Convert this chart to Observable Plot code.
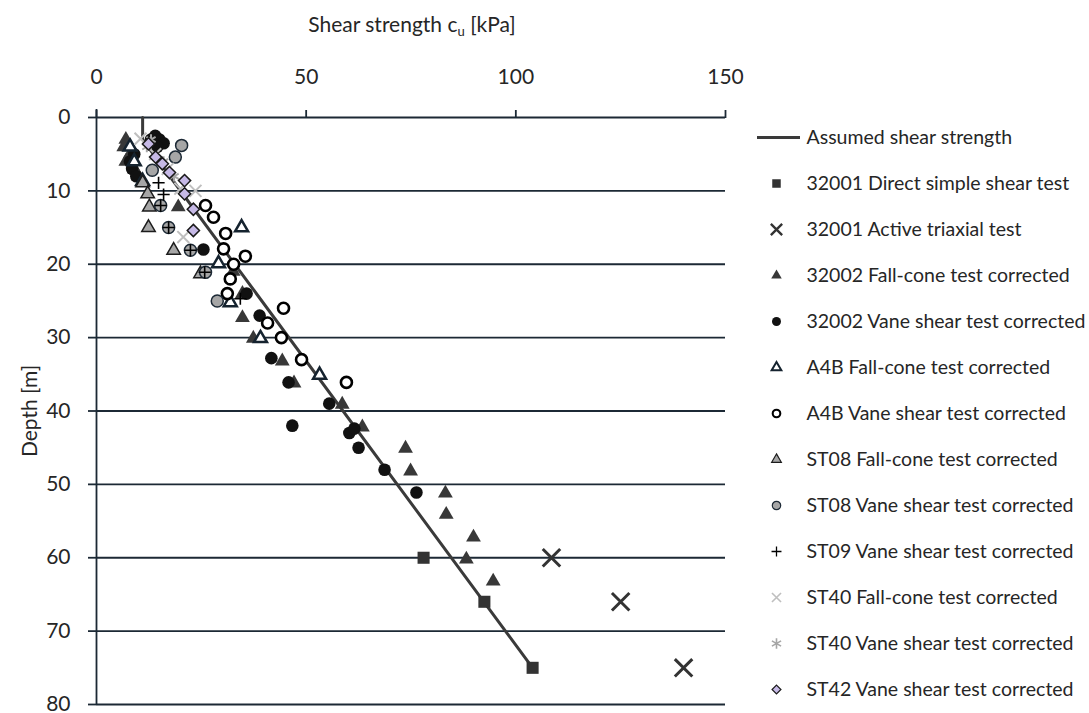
<!DOCTYPE html>
<html><head><meta charset="utf-8">
<script src="https://cdn.jsdelivr.net/npm/d3@7"></script>
<script src="https://cdn.jsdelivr.net/npm/@observablehq/plot@0.6"></script>
<style>
body{margin:0;background:#fff;font-family:Lato,sans-serif;}
#wrap{position:relative;width:1089px;height:713px;overflow:hidden;background:#fff}
#title{position:absolute;top:11px;left:0;width:824px;text-align:center;font-size:21px;line-height:26px;color:#262626;font-family:Lato,sans-serif}
#title sub{font-size:0.62em;vertical-align:-0.3em}
#main{position:absolute;left:0;top:0}
#legend{position:absolute;left:757px;top:0}
</style></head><body>
<div id="wrap"><div id="main"></div><div id="legend"></div><div id="title">Shear strength c<sub>u</sub> [kPa]</div></div>
<script>
// ---- axis ticks ----
const cuTicks = [0, 50, 100, 150];
const depthTicks = [0, 10, 20, 30, 40, 50, 60, 70, 80];

// ---- assumed shear strength line ----
const assumedCu = [11, 11, 104];
const assumedDepth = [0, 3, 75];

// ---- 32001 Direct simple shear test ----
const dss32001Cu = [78, 92.5, 104];
const dss32001Depth = [60, 66, 75];

// ---- 32001 Active triaxial test ----
const triax32001Cu = [108.5, 125, 140];
const triax32001Depth = [60, 66, 75];

// ---- 32002 Fall-cone test corrected ----
const fc32002Cu = [7, 6.5, 8, 7, 9, 10, 9, 19.5, 32.6, 34.8, 34.8, 37.4, 44.3, 47.1, 58.6, 63.4, 73.7, 74.9, 83.2, 83.4, 89.9, 88.2, 94.6];
const fc32002Depth = [3, 4, 5, 6, 7, 8, 6, 12.2, 21, 24, 27.3, 30.1, 33.2, 36.2, 39.1, 42.2, 45.1, 48.2, 51.2, 54.1, 57.2, 60.2, 63.2];

// ---- 32002 Vane shear test corrected ----
const vane32002Cu = [14, 15, 16, 14.5, 9, 8, 8.5, 9.5, 13, 25.5, 35.8, 38.9, 41.7, 45.8, 46.7, 55.5, 60.3, 61.5, 62.5, 68.7, 76.3];
const vane32002Depth = [2.5, 3, 3.5, 4, 5, 6, 7, 8, 3, 18, 24, 27, 32.8, 36.1, 42, 39, 43, 42.4, 45, 48, 51.1];

// ---- A4B Fall-cone test corrected ----
const fcA4BCu = [8, 9, 11, 34.6, 29.1, 31.9, 39.1, 53.2];
const fcA4BDepth = [4, 6, 8.7, 15, 19.9, 25.2, 30.1, 35.1];

// ---- A4B Vane shear test corrected ----
const vaneA4BCu = [26, 27.9, 30.8, 30.3, 35.5, 32.7, 31.9, 31.2, 44.6, 40.8, 44.1, 48.9, 59.6];
const vaneA4BDepth = [12, 13.6, 15.8, 17.9, 18.9, 20, 22, 24, 26, 28, 30, 33, 36.1];

// ---- ST08 Fall-cone test corrected ----
const fcST08Cu = [11, 12.2, 12.6, 12.4, 18.4, 24.8];
const fcST08Depth = [8.9, 10.4, 12.2, 15, 18.1, 21.3];

// ---- ST08 Vane shear test corrected ----
const vaneST08Cu = [20.3, 18.8, 13.3, 15.3, 17.2, 22.4, 26, 28.8];
const vaneST08Depth = [3.8, 5.4, 7.2, 12, 15, 18.1, 21.1, 25];

// ---- ST09 Vane shear test corrected ----
const vaneST09Cu = [14.8, 16, 15.3, 17.2, 22.4, 25.8, 34.3];
const vaneST09Depth = [8.9, 10.5, 12, 15, 18.1, 21.1, 24.7];

// ---- ST40 Fall-cone test corrected ----
const fcST40Cu = [10.5, 14, 17, 20, 23.6, 20.7];
const fcST40Depth = [2.9, 5, 7, 9.7, 10, 16.3];

// ---- ST40 Vane shear test corrected ----
const vaneST40Cu = [13, 12, 16, 18.5];
const vaneST40Depth = [3, 4, 6, 8];

// ---- ST42 Vane shear test corrected ----
const vaneST42Cu = [12.4, 14.1, 15.7, 17.4, 21, 21, 23.1, 23.1];
const vaneST42Depth = [3.6, 5.4, 6.3, 7.5, 8.6, 10.4, 12.5, 15.4];

const lineName = "Assumed shear strength";
const seriesNames = [
  "32001 Direct simple shear test",
  "32001 Active triaxial test",
  "32002 Fall-cone test corrected",
  "32002 Vane shear test corrected",
  "A4B Fall-cone test corrected",
  "A4B Vane shear test corrected",
  "ST08 Fall-cone test corrected",
  "ST08 Vane shear test corrected",
  "ST09 Vane shear test corrected",
  "ST40 Fall-cone test corrected",
  "ST40 Vane shear test corrected",
  "ST42 Vane shear test corrected"
];

const gridColor = "#1c2935";
const textColor = "#262626";

const zipPts = (a, b) => a.map((v, i) => ({cu: v, depth: b[i]}));

const series = [
  {name: seriesNames[0], cu: dss32001Cu, depth: dss32001Depth, symbol: "square", r: 6.8, lr: 4.8, fill: "#333333", stroke: "none", sw: 0},
  {name: seriesNames[1], cu: triax32001Cu, depth: triax32001Depth, symbol: "times", r: 8, lr: 5.2, fill: "none", stroke: "#333333", sw: 3},
  {name: seriesNames[2], cu: fc32002Cu, depth: fc32002Depth, symbol: "triangle", r: 5.5, lr: 3.9, fill: "#383838", stroke: "none", sw: 0},
  {name: seriesNames[3], cu: vane32002Cu, depth: vane32002Depth, symbol: "circle", r: 6.3, lr: 4.5, fill: "#111111", stroke: "none", sw: 0},
  {name: seriesNames[4], cu: fcA4BCu, depth: fcA4BDepth, symbol: "triangle", r: 4.8, lr: 3.6, fill: "#ffffff", stroke: "#15232f", sw: 2.5},
  {name: seriesNames[5], cu: vaneA4BCu, depth: vaneA4BDepth, symbol: "circle", r: 5.5, lr: 3.8, fill: "#ffffff", stroke: "#000000", sw: 2.6},
  {name: seriesNames[6], cu: fcST08Cu, depth: fcST08Depth, symbol: "triangle", r: 5, lr: 3.6, fill: "#a6a6a6", stroke: "#1c1c1c", sw: 1.5},
  {name: seriesNames[7], cu: vaneST08Cu, depth: vaneST08Depth, symbol: "circle", r: 6, lr: 4.2, fill: "#a6a6a6", stroke: "#1c2935", sw: 1.5},
  {name: seriesNames[8], cu: vaneST09Cu, depth: vaneST09Depth, symbol: "plus", r: 4, lr: 3.3, fill: "none", stroke: "#000000", sw: 1.6},
  {name: seriesNames[9], cu: fcST40Cu, depth: fcST40Depth, symbol: "times", r: 5.5, lr: 4.2, fill: "none", stroke: "#bfbfbf", sw: 2},
  {name: seriesNames[10], cu: vaneST40Cu, depth: vaneST40Depth, symbol: "asterisk", r: 5, lr: 5, fill: "none", stroke: "#a6a6a6", sw: 2},
  {name: seriesNames[11], cu: vaneST42Cu, depth: vaneST42Depth, symbol: "diamond2", r: 5.5, lr: 4, fill: "#c6b9e6", stroke: "#1a1a1a", sw: 1.5}
];

const dotMarks = series.map(s => Plot.dot(zipPts(s.cu, s.depth), {
  x: "cu", y: "depth", symbol: () => s.symbol, r: s.r,
  fill: s.fill, stroke: s.stroke, strokeWidth: s.sw
}));

const main = Plot.plot({
  width: 1089, height: 713,
  marginLeft: 96, marginRight: 364, marginTop: 117, marginBottom: 9,
  style: {fontFamily: "Lato, sans-serif", fontSize: "21px", color: textColor, background: "transparent", overflow: "visible"},
  x: {domain: [0, 150]},
  y: {domain: [0, 80], reverse: true},
  symbol: {type: "identity"},
  marks: [
    Plot.gridY(depthTicks, {stroke: gridColor, strokeOpacity: 1, strokeWidth: 1.8}),
    Plot.ruleX([0], {stroke: gridColor, strokeWidth: 1.8, insetTop: -8}),
    Plot.axisX(cuTicks, {anchor: "top", tickSize: 8, tickPadding: 26, stroke: gridColor, strokeWidth: 1.8, label: null, fontSize: 21, fill: textColor}),
    Plot.axisY(depthTicks, {anchor: "left", tickSize: 8, tickPadding: 18, stroke: gridColor, strokeWidth: 1.8, fontSize: 21, fill: textColor,
      label: "Depth [m]", labelAnchor: "center", labelArrow: "none", labelOffset: 74}),
    Plot.line(zipPts(assumedCu, assumedDepth), {x: "cu", y: "depth", stroke: "#3a3a3a", strokeWidth: 3}),
    ...dotMarks
  ]
});
document.getElementById("main").appendChild(main);

const legendNames = [lineName, ...seriesNames];
const legend = Plot.plot({
  width: 332, height: 713, margin: 0,
  y: {type: "point", domain: legendNames, range: [134, 692], padding: 0},
  symbol: {type: "identity"},
  axis: null,
  style: {fontFamily: "Lato, sans-serif", fontSize: "19.5px", color: textColor, background: "transparent", overflow: "visible"},
  marks: [
    Plot.ruleY([lineName], {y: d => d, stroke: "#3a3a3a", strokeWidth: 3, insetLeft: 0, insetRight: 289}),
    ...series.map(s => Plot.dot([s.name], {
      y: d => d, frameAnchor: "left", dx: 19, symbol: () => s.symbol, r: s.lr,
      fill: s.fill, stroke: s.stroke, strokeWidth: s.sw * 0.8
    })),
    Plot.text(legendNames, {y: d => d, text: d => d, frameAnchor: "left", dx: 49, textAnchor: "start", fontSize: 19.5, fill: textColor})
  ]
});
document.getElementById("legend").appendChild(legend);
</script>
</body></html>
